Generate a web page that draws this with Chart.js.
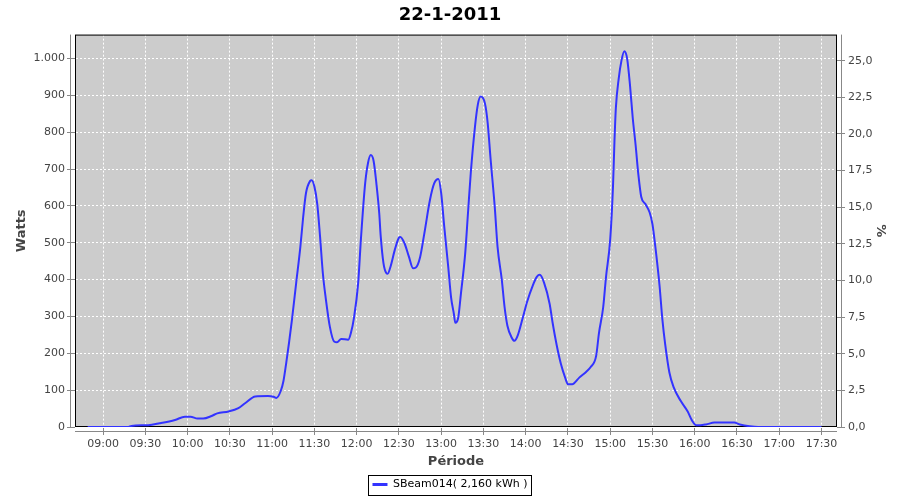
<!DOCTYPE html>
<html>
<head>
<meta charset="utf-8">
<script src="https://cdn.jsdelivr.net/npm/chart.js@4"></script>
<style>
  html, body { margin: 0; padding: 0; background: #fff; }
  #wrap { width: 900px; height: 500px; }
</style>
</head>
<body>
<div id="wrap"><canvas id="chart" width="900" height="500"></canvas></div>
<script>
// relevés SBeam014, 22-1-2011
const times = [
  "08:49","09:00","09:18","09:20","09:32","09:40","09:51","09:58","10:02","10:07",
  "10:11","10:17","10:21","10:29","10:36","10:41","10:48","10:57","11:01","11:03",
  "11:06","11:08","11:10","11:12","11:14","11:17","11:20","11:22","11:24",
  "11:27","11:28","11:30","11:32","11:34","11:36","11:38","11:41","11:44","11:46",
  "11:49","11:54","11:56","11:58","12:01","12:03","12:06","12:08","12:10","12:12",
  "12:14","12:16","12:17","12:19","12:21","12:22","12:24","12:27","12:30","12:31",
  "12:34","12:37","12:40","12:42","12:45","12:48","12:52","12:55","12:58","13:00",
  "13:02","13:05","13:07","13:09","13:10","13:12","13:14","13:17","13:19","13:21",
  "13:24","13:26","13:28","13:31","13:33","13:35","13:38","13:40","13:43","13:45",
  "13:47","13:50","13:52","13:54","13:58","14:01","14:05","14:08","14:10","14:13",
  "14:17","14:19","14:22","14:25","14:28","14:30","14:33","14:38","14:43","14:46",
  "14:50","14:52","14:55","14:57","15:00","15:02","15:03","15:04","15:06",
  "15:08","15:10","15:12","15:14","15:16","15:18","15:20","15:22","15:25","15:28",
  "15:30","15:32","15:35","15:37","15:39","15:42","15:45","15:50","15:55","15:58",
  "16:01","16:04","16:08","16:14","16:28","16:32","16:39","16:45","17:30"
];
const watts = [
  0, 0, 0, 3, 5, 10, 19, 28, 28, 23,
  23, 30, 37, 42, 51, 65, 83, 84, 82, 79,
  97, 125, 175, 230, 290, 390, 489, 570, 635,
  668, 670, 652, 605, 516, 416, 350, 271, 232, 230,
  239, 237, 257, 295, 389, 510, 661, 716, 738, 722,
  660, 580, 520, 445, 418, 416, 435, 480, 514, 516,
  498, 463, 431, 433, 461, 525, 616, 661, 673, 634,
  550, 434, 352, 307, 283, 295, 362, 470, 580, 690,
  816, 875, 897, 879, 825, 730, 598, 489, 400, 325,
  275, 243, 234, 245, 298, 340, 384, 408, 413, 392,
  334, 285, 222, 171, 134, 116, 116, 134, 150, 162,
  193, 255, 325, 407, 510, 657, 775, 866, 945,
  995, 1020, 1000, 929, 838, 766, 684, 625, 605, 582,
  550, 490, 384, 293, 225, 148, 108, 71, 42, 18,
  5, 5, 7, 12, 12, 7, 2, 0, 0
];
const xTicks = ["09:00","09:30","10:00","10:30","11:00","11:30","12:00","12:30",
  "13:00","13:30","14:00","14:30","15:00","15:30","16:00","16:30","17:00","17:30"];
const wattTicks = [0, 100, 200, 300, 400, 500, 600, 700, 800, 900, 1000];
const pctTicks = [0, 2.5, 5, 7.5, 10, 12.5, 15, 17.5, 20, 22.5, 25];
const seriesLabel = "SBeam014( 2,160 kWh )";

function toMin(t) {
  const p = t.split(":");
  return parseInt(p[0], 10) * 60 + parseInt(p[1], 10);
}
function fmtTime(m) {
  const h = Math.floor(m / 60), mm = Math.round(m % 60);
  return String(h).padStart(2, "0") + ":" + String(mm).padStart(2, "0");
}

const points = times.map((t, i) => ({ x: toMin(t), y: watts[i] }));
const tickFont = { family: "DejaVu Sans", size: 11 };
const titleFont = { family: "DejaVu Sans", size: 13, weight: "bold" };
const txtColor = "#444444";
const axisGray = "#888888";

// fond gris du tracé + cadre + axes décalés (style JFreeChart)
const plotFrame = {
  id: "plotFrame",
  beforeDraw(chart) {
    const { ctx, chartArea: a } = chart;
    ctx.save();
    ctx.fillStyle = "#cccccc";
    ctx.fillRect(a.left, a.top, a.right - a.left, a.bottom - a.top);
    ctx.restore();
  },
  beforeDatasetsDraw(chart) {
    const { ctx, chartArea: a } = chart;
    ctx.save();
    ctx.strokeStyle = "#000";
    ctx.lineWidth = 1;
    ctx.strokeRect(a.left + 0.5, a.top + 0.5, a.right - a.left - 1, a.bottom - a.top - 1);
    ctx.strokeStyle = axisGray;
    ctx.beginPath();
    ctx.moveTo(a.left - 4.5, a.top);
    ctx.lineTo(a.left - 4.5, a.bottom);
    ctx.moveTo(a.right + 4.5, a.top);
    ctx.lineTo(a.right + 4.5, a.bottom);
    ctx.moveTo(a.left, a.bottom + 4.5);
    ctx.lineTo(a.right, a.bottom + 4.5);
    ctx.stroke();
    ctx.restore();
  },
  afterDraw(chart) {
    const lg = chart.legend;
    if (!lg || !lg.legendHitBoxes || !lg.legendHitBoxes.length) return;
    const hb = lg.legendHitBoxes[0];
    const ctx = chart.ctx;
    ctx.save();
    ctx.strokeStyle = "#000";
    ctx.lineWidth = 1;
    ctx.strokeRect(Math.round(hb.left - 4) + 0.5, Math.round(hb.top - 4) + 0.5,
      Math.round(hb.width + 8), Math.round(hb.height + 9));
    ctx.restore();
  }
};

const dashGrid = { display: true, color: "rgba(0,0,0,0)", dash: [2, 2] };

new Chart(document.getElementById("chart"), {
  type: "line",
  data: {
    datasets: [{
      label: seriesLabel,
      data: points,
      borderColor: "#3333ff",
      backgroundColor: "#3333ff",
      borderWidth: 2,
      pointRadius: 0,
      cubicInterpolationMode: "monotone",
      yAxisID: "y"
    }]
  },
  options: {
    responsive: false,
    animation: false,
    layout: { padding: { left: 0, right: 0, top: 0, bottom: 0 } },
    plugins: {
      title: {
        display: true,
        text: "22-1-2011",
        color: "#000",
        font: { family: "DejaVu Sans", size: 18, weight: "bold" },
        padding: { top: 5, bottom: 8 }
      },
      legend: {
        position: "bottom",
        labels: {
          color: txtColor,
          font: tickFont,
          boxWidth: 15,
          boxHeight: 3,
          padding: 7,
          generateLabels: () => [{
            text: seriesLabel,
            fillStyle: "#3333ff",
            strokeStyle: "#3333ff",
            lineWidth: 0,
            hidden: false,
            datasetIndex: 0
          }]
        }
      },
      tooltip: { enabled: false }
    },
    scales: {
      x: {
        type: "linear",
        min: 520,
        max: 1061,
        afterBuildTicks: (s) => { s.ticks = xTicks.map((t) => ({ value: toMin(t) })); },
        afterFit: (s) => { s.height = 45; },
        ticks: {
          color: txtColor,
          font: tickFont,
          padding: 3,
          maxRotation: 0,
          autoSkip: false,
          callback: (v) => fmtTime(v)
        },
        grid: {
          color: "#ffffff",
          lineWidth: 1,
          tickColor: axisGray,
          tickLength: 8,
          tickBorderDash: [],
          drawOnChartArea: true
        },
        border: dashGrid,
        title: {
          display: true,
          text: "Période",
          color: txtColor,
          font: titleFont,
          padding: { top: 0, bottom: 3 }
        }
      },
      y: {
        position: "left",
        min: 0,
        max: 1065,
        afterBuildTicks: (s) => { s.ticks = wattTicks.map((v) => ({ value: v })); },
        afterFit: (s) => { s.width = 75; },
        ticks: {
          color: txtColor,
          font: tickFont,
          padding: 2,
          callback: (v) => v.toLocaleString("de-DE")
        },
        grid: {
          color: "#ffffff",
          lineWidth: 1,
          tickColor: axisGray,
          tickLength: 8,
          tickBorderDash: []
        },
        border: dashGrid,
        title: {
          display: true,
          text: "Watts",
          color: txtColor,
          font: titleFont,
          padding: { top: 14, bottom: 0 }
        }
      },
      y2: {
        position: "right",
        min: 0,
        max: 26.78,
        afterBuildTicks: (s) => { s.ticks = pctTicks.map((v) => ({ value: v })); },
        afterFit: (s) => { s.width = 63; },
        ticks: {
          color: txtColor,
          font: tickFont,
          padding: 3,
          callback: (v) => v.toFixed(1).replace(".", ",")
        },
        grid: {
          drawOnChartArea: false,
          tickColor: axisGray,
          tickLength: 8
        },
        border: { display: false },
        title: {
          display: true,
          text: "%",
          color: txtColor,
          font: titleFont,
          padding: { top: 12, bottom: 0 }
        }
      }
    }
  },
  plugins: [plotFrame]
});
</script>
</body>
</html>
